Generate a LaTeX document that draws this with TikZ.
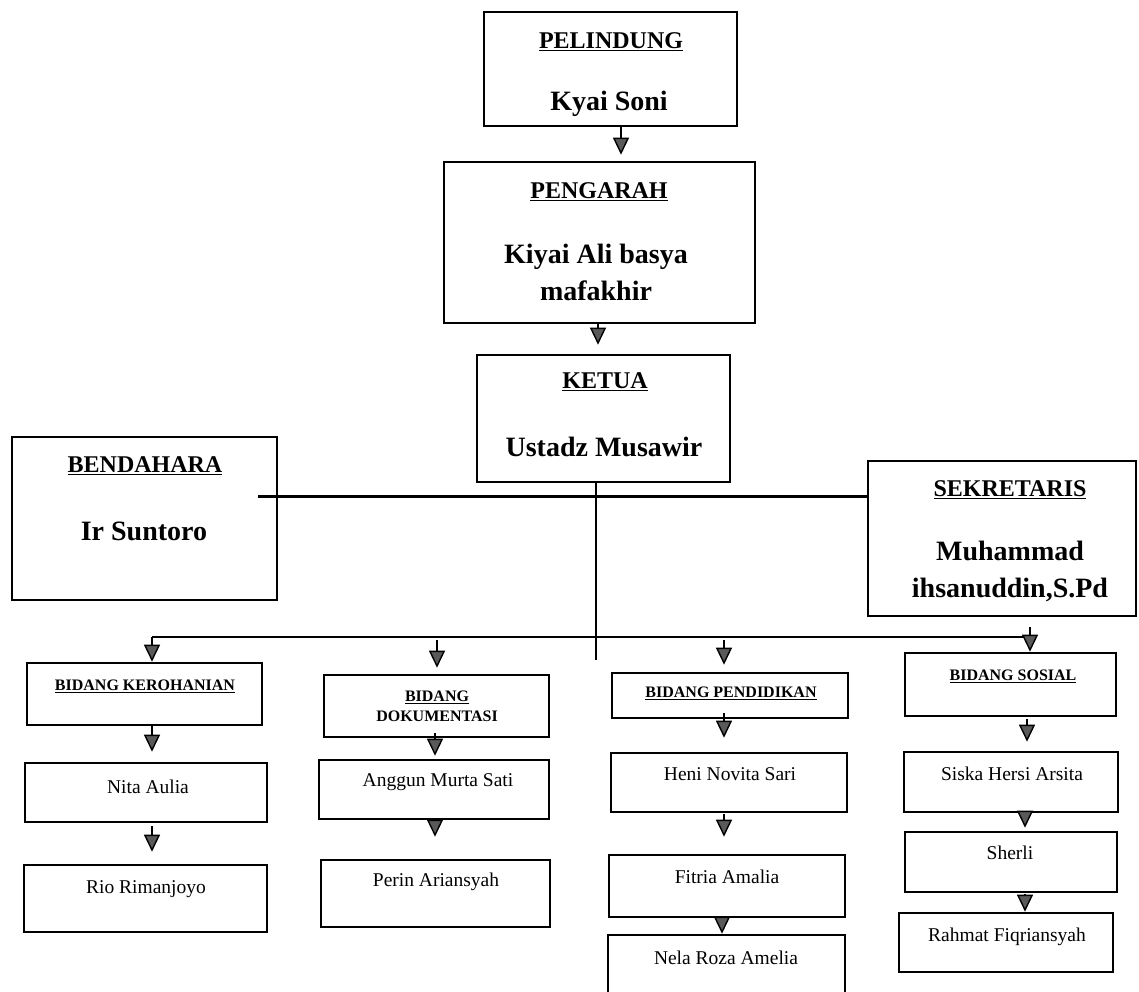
\documentclass[tikz,border=0pt]{standalone}
\usepackage{fontspec}
\setmainfont{Liberation Serif}
\usetikzlibrary{arrows.meta,fit}
\tikzset{
  box/.style={draw, line width=2.6pt, inner sep=0pt},
  hd/.style={font=\bfseries\fontsize{24}{29}\selectfont, align=center},
  nm/.style={font=\bfseries\fontsize{28}{37}\selectfont, align=center},
  bh/.style={font=\bfseries\fontsize{16}{20}\selectfont, align=center},
  mb/.style={font=\fontsize{19.5}{23}\selectfont, align=center},
  ln/.style={line width=2.2pt},
  hln/.style={line width=3pt},
  arr/.style={line width=2.2pt, -{Triangle[width=16pt,length=17pt,fill=black!65,line width=1.4pt]}},
}
\begin{document}
\begin{tikzpicture}[x=1pt,y=-1pt]
\useasboundingbox (0,0) rectangle (1139,991);
% top chain
\node[box, fit={(484,12) (737,126)}] (pel) {};
\node[hd] (pelH) at (611,42) {\underline{PELINDUNG}};
\node[nm] (pelN) at (609,104) {Kyai Soni};
\node[box, fit={(444,162) (755,323)}] (peng) {};
\node[hd] (pengH) at (599,192) {\underline{PENGARAH}};
\node[nm] (pengN) at (596,272) {Kiyai Ali basya\\mafakhir};
\node[box, fit={(477,355) (730,482)}] (ket) {};
\node[hd] (ketH) at (605,382) {\underline{KETUA}};
\node[nm] (ketN) at (604,447) {Ustadz Musawir};
\node[box, fit={(12,437) (277,600)}] (ben) {};
\node[hd] (benH) at (145,466) {\underline{BENDAHARA}};
\node[nm] (benN) at (144,531) {Ir Suntoro};
\node[box, fit={(868,461) (1136,616)}] (sek) {};
\node[hd] (sekH) at (1010,490) {\underline{SEKRETARIS}};
\node[nm] (sekN) at (1010,571) {Muhammad\\ihsanuddin,S.Pd};
% bidang
\node[box, fit={(27,663) (262,725)}] (ker) {};
\node[bh] (kerH) at (145,686) {\underline{BIDANG KEROHANIAN}};
\node[box, fit={(324,675) (549,737)}] (dok) {};
\node[bh] (dokH) at (437,706) {\underline{BIDANG}\\DOKUMENTASI};
\node[box, fit={(612,673) (848,718)}] (pen) {};
\node[bh] (penH) at (731,693) {\underline{BIDANG PENDIDIKAN}};
\node[box, fit={(905,653) (1116,716)}] (sos) {};
\node[bh] (sosH) at (1013,676) {\underline{BIDANG SOSIAL}};
% members
\node[box, fit={(25,763) (267,822)}] (m11) {};
\node[mb] (m11t) at (148,787) {Nita Aulia};
\node[box, fit={(24,865) (267,932)}] (m12) {};
\node[mb] (m12t) at (146,889) {Rio Rimanjoyo};
\node[box, fit={(319,760) (549,819)}] (m21) {};
\node[mb] (m21t) at (438,782) {Anggun Murta Sati};
\node[box, fit={(321,860) (550,927)}] (m22) {};
\node[mb] (m22t) at (436,882) {Perin Ariansyah};
\node[box, fit={(611,753) (847,812)}] (m31) {};
\node[mb] (m31t) at (730,774) {Heni Novita Sari};
\node[box, fit={(609,855) (845,917)}] (m32) {};
\node[mb] (m32t) at (727,877) {Fitria Amalia};
\node[box, fit={(608,935) (845,1000)}] (m33) {};
\node[mb] (m33t) at (726,958) {Nela Roza Amelia};
\node[box, fit={(904,752) (1118,812)}] (m41) {};
\node[mb] (m41t) at (1012,774) {Siska Hersi Arsita};
\node[box, fit={(905,832) (1117,892)}] (m42) {};
\node[mb] (m42t) at (1010,853) {Sherli};
\node[box, fit={(899,913) (1113,972)}] (m43) {};
\node[mb] (m43t) at (1007,937) {Rahmat Fiqriansyah};
% helper coordinates
\coordinate (xa) at (621,0);
\coordinate (xb) at (598,0);
\coordinate (xk) at (596,0);
\coordinate (kend) at (596,660);
\coordinate (hb) at (258,496);
\coordinate (dl) at (152,637);
\coordinate (dr) at (1030,637);
\coordinate (x2) at (437,0);
\coordinate (x3) at (724,0);
% connectors
\draw[arr, shorten >=6pt] (pel.south -| xa) -- (peng.north -| xa);
\draw[arr, shorten >=9pt] (peng.south -| xb) -- (ket.north -| xb);
\draw[ln] (ket.south -| xk) -- (kend);
\draw[hln] (hb) -- (sek.west |- hb);
\draw[ln] (dl) -- (dr);
\draw[arr] (dl) -- (ker.north -| dl);
\draw[arr, shorten <=3pt, shorten >=6pt] (dl -| x2) -- (dok.north -| x2);
\draw[arr, shorten <=3pt, shorten >=7pt] (dl -| x3) -- (pen.north -| x3);
\draw[arr, shorten <=10pt] (sek.south -| dr) -- (sos.north -| dr);
% columns
\coordinate (c1) at (152,0);
\coordinate (c2) at (435,0);
\coordinate (c3) at (724,0);
\coordinate (c3b) at (722,0);
\coordinate (c4) at (1027,0);
\coordinate (c4b) at (1025,0);
\draw[arr, shorten >=10pt] (ker.south -| c1) -- (m11.north -| c1);
\draw[arr, shorten <=3pt, shorten >=12pt] (m11.south -| c1) -- (m12.north -| c1);
\draw[arr, shorten <=-5pt, shorten >=3pt] (dok.south -| c2) -- (m21.north -| c2);
\draw[arr, shorten <=-7pt, shorten >=22pt] (m21.south -| c2) -- (m22.north -| c2);
\draw[arr, shorten <=-6pt, shorten >=14pt] (pen.south -| c3) -- (m31.north -| c3);
\draw[arr, shorten <=1pt, shorten >=17pt] (m31.south -| c3) -- (m32.north -| c3);
\draw[arr, shorten <=-4pt] (m32.south -| c3b) -- (m33.north -| c3b);
\draw[arr, shorten <=2pt, shorten >=9pt] (sos.south -| c4) -- (m41.north -| c4);
\draw[arr, shorten <=-9pt, shorten >=3pt] (m41.south -| c4b) -- (m42.north -| c4b);
\draw[arr, shorten <=1pt] (m42.south -| c4b) -- (m43.north -| c4b);
\end{tikzpicture}
\end{document}
